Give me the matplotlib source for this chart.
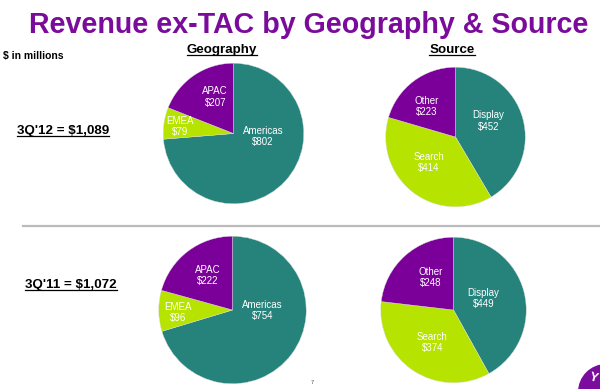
import matplotlib
matplotlib.use("Agg")
import matplotlib.pyplot as plt
from matplotlib.lines import Line2D
from matplotlib.patches import Ellipse

plt.rcParams['font.family'] = ['Liberation Sans', 'DejaVu Sans']

# ---- data ----
geo_labels = ["Americas", "EMEA", "APAC"]
geo_2012 = [802, 79, 207]
geo_2011 = [754, 96, 222]
src_labels = ["Display", "Search", "Other"]
src_2012 = [452, 414, 223]
src_2011 = [449, 374, 248]
period_labels = ["3Q'12 = $1,089", "3Q'11 = $1,072"]

TEAL = "#26837C"
LIME = "#B6E300"
PURPLE = "#7A0099"
colors = [TEAL, LIME, PURPLE]

W, H = 600, 389
fig = plt.figure(figsize=(W / 100, H / 100), dpi=100)
fig.patch.set_facecolor("white")

def fx(x):
    return x / W

def fy(y):
    return 1 - y / H

# label offsets (in pie-radius units), per pie
geo_top_pos = [(0.42, -0.04), (-0.76, 0.10), (-0.26, 0.52)]
src_top_pos = [(0.47, 0.23), (-0.38, -0.36), (-0.41, 0.44)]
geo_bot_pos = [(0.41, -0.01), (-0.74, -0.03), (-0.34, 0.47)]
src_bot_pos = [(0.41, 0.16), (-0.29, -0.45), (-0.31, 0.45)]

def draw_pie(cx, cy, r, values, labels, positions):
    ax = fig.add_axes([fx(cx - r), fy(cy + r), 2 * r / W, 2 * r / H])
    ax.pie(values, colors=colors, startangle=90, counterclock=False,
           radius=1.0, wedgeprops=dict(linewidth=0.3, edgecolor="#dddddd"))
    for lab, v, (px, py) in zip(labels, values, positions):
        ax.text(px, py, f"{lab}\n${v}", color="white", fontsize=7,
                ha="center", va="center", linespacing=1.15)
    ax.set_xlim(-1.01, 1.01)
    ax.set_ylim(-1.01, 1.01)
    ax.set_aspect("auto")
    ax.axis("off")
    return ax

draw_pie(233.5, 133.5, 71, geo_2012, geo_labels, geo_top_pos)
draw_pie(455.5, 137, 70.5, src_2012, src_labels, src_top_pos)
draw_pie(232.5, 310, 74.5, geo_2011, geo_labels, geo_bot_pos)
draw_pie(453.5, 310, 73.5, src_2011, src_labels, src_bot_pos)

# title
fig.text(fx(309), fy(25), "Revenue ex-TAC by Geography & Source", color="#7B0C9B",
         fontsize=20.6, fontweight="bold", ha="center", va="center")

fig.text(fx(3), fy(56), "$ in millions", fontsize=7.5, fontweight="bold",
         ha="left", va="center", color="black")

underlined = []
underlined.append(fig.text(fx(222), fy(50), "Geography", fontsize=9.6, fontweight="bold",
                           ha="center", va="center"))
underlined.append(fig.text(fx(452), fy(50), "Source", fontsize=9.6, fontweight="bold",
                           ha="center", va="center"))
underlined.append(fig.text(fx(17), fy(131), period_labels[0], fontsize=9.6, fontweight="bold",
                           ha="left", va="center"))
underlined.append(fig.text(fx(25), fy(285), period_labels[1], fontsize=9.6, fontweight="bold",
                           ha="left", va="center"))

# separator
fig.add_artist(Line2D([fx(23), 1.0], [fy(226), fy(226)], color="#BBBBBB", lw=1.6,
                      transform=fig.transFigure))

# page number
fig.text(fx(312), fy(383), "7", fontsize=4, ha="center", va="center", color="#444444")

# logo (partial purple circle in corner)
fig.add_artist(Ellipse((fx(606), fy(392)), 2 * 28 / W, 2 * 28 / H, transform=fig.transFigure,
                       facecolor="#7A0C9E", edgecolor="none"))
fig.text(fx(594), fy(378), "Y", fontsize=9, fontweight="bold", color="white",
         ha="center", va="center", rotation=-15)

fig.canvas.draw()
renderer = fig.canvas.get_renderer()
for t in underlined:
    bb = t.get_window_extent(renderer)
    y = bb.y0 + 1.0
    fig.add_artist(Line2D([bb.x0 / W, bb.x1 / W], [y / H, y / H], color="black", lw=0.9,
                          transform=fig.transFigure))

fig.savefig("out.png", dpi=100, facecolor="white")
